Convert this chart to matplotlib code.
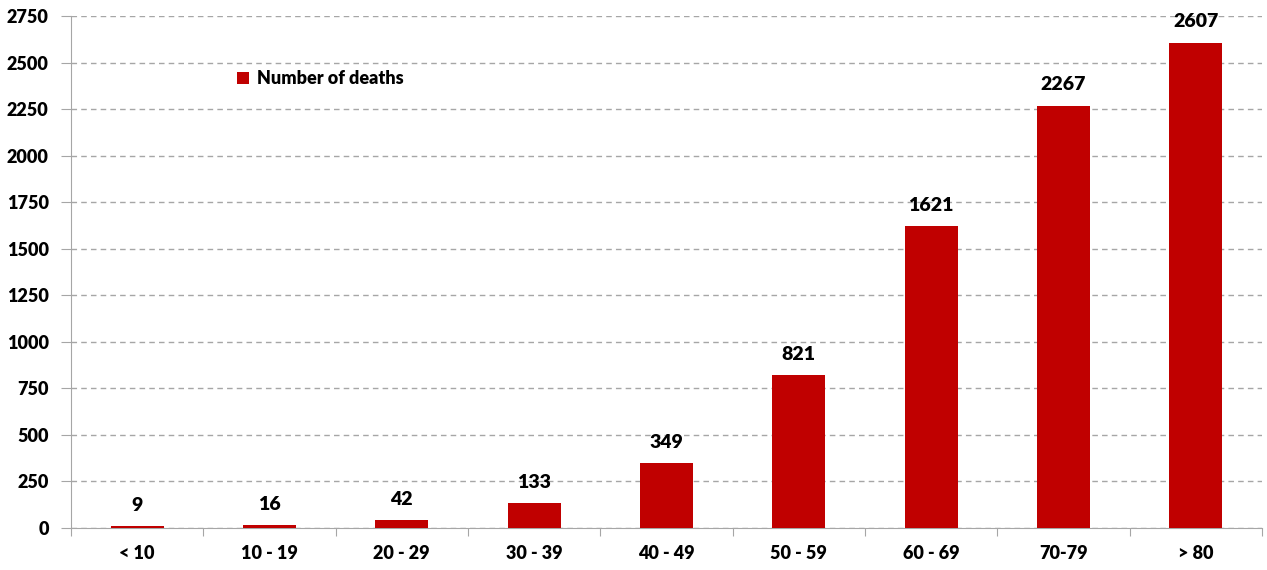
import matplotlib.pyplot as plt
from matplotlib.ticker import MultipleLocator

# Data
age_groups = ['< 10', '10 - 19', '20 - 29', '30 - 39', '40 - 49',
              '50 - 59', '60 - 69', '70-79', '> 80']
deaths = [9, 16, 42, 133, 349, 821, 1621, 2267, 2607]

plt.rcParams['font.family'] = ['Lato', 'DejaVu Sans']
plt.rcParams['font.weight'] = 'bold'

fig = plt.figure(figsize=(12.67, 5.7), dpi=100)
ax = fig.add_axes([0.056, 0.0737, 0.94, 0.8983])

x = range(len(age_groups))
bars = ax.bar(x, deaths, width=0.4, color='#C00000', label='Number of deaths', zorder=3)

# value labels
for xi, v in zip(x, deaths):
    ax.annotate(str(v), (xi, v), xytext=(0, 9), textcoords='offset points',
                ha='center', va='bottom', fontsize=14, fontweight='heavy')

ax.set_xlim(-0.5, len(age_groups) - 0.5)
ax.set_ylim(0, 2750)
ax.yaxis.set_major_locator(MultipleLocator(250))
ax.grid(axis='y', color='#a6a6a6', linestyle=(0, (4, 3)), linewidth=1, zorder=0)

ax.set_xticks([i + 0.5 for i in range(-1, len(age_groups))], minor=False)
ax.set_xticklabels([])
ax.set_xticks(list(x), minor=True)
ax.set_xticklabels(age_groups, minor=True, fontsize=13, fontweight='heavy')
ax.tick_params(axis='x', which='minor', length=0, pad=12)
ax.tick_params(axis='x', which='major', length=6, color='#a6a6a6', direction='out')
ax.tick_params(axis='y', length=7, color='#a6a6a6', labelsize=13, pad=9)
for lbl in ax.get_yticklabels():
    lbl.set_fontweight('heavy')

for side in ['top', 'right']:
    ax.spines[side].set_visible(False)
ax.spines['left'].set_color('#a6a6a6')
ax.spines['bottom'].set_color('#a6a6a6')

ax.legend(loc='upper left', bbox_to_anchor=(0.174, 0.905), bbox_transform=fig.transFigure,
          frameon=False, handlelength=0.7, handleheight=0.7, handletextpad=0.4,
          prop={'weight': 'heavy', 'size': 13})

plt.savefig('out.png')
